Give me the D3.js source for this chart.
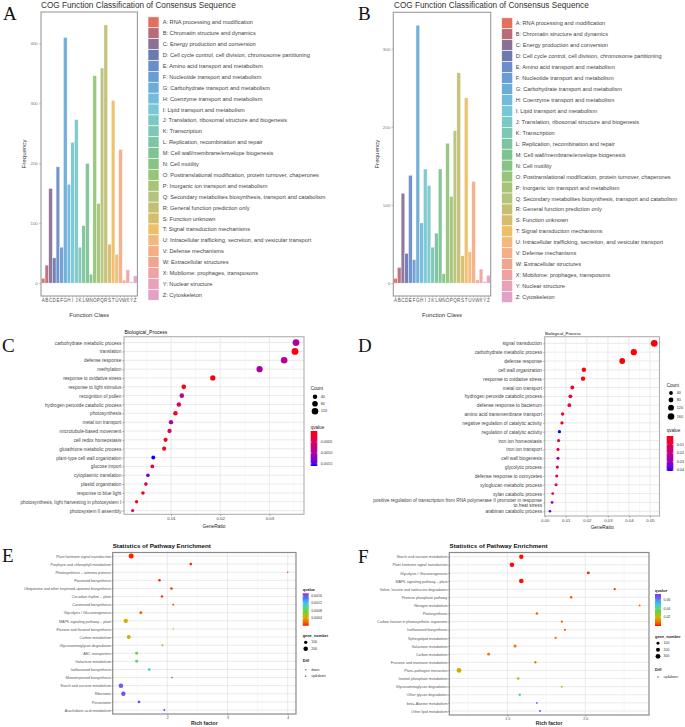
<!DOCTYPE html>
<html><head><meta charset="utf-8">
<script src="https://cdn.jsdelivr.net/npm/d3@7"></script>
<style>body{margin:0;background:#fff}svg{display:block}</style>
</head><body><svg id="fig" width="685" height="727"></svg>
<script>
// ================= DATA =================
const cogLetters = ["A","B","C","D","E","F","G","H","I","J","K","L","M","N","O","P","Q","R","S","T","U","V","W","X","Y","Z"];
const cogNames = ["A: RNA processing and modification","B: Chromatin structure and dynamics","C: Energy production and conversion","D: Cell cycle control, cell division, chromosome partitioning","E: Amino acid transport and metabolism","F: Nucleotide transport and metabolism","G: Carbohydrate transport and metabolism","H: Coenzyme transport and metabolism","I: Lipid transport and metabolism","J: Translation, ribosomal structure and biogenesis","K: Transcription","L: Replication, recombination and repair","M: Cell wall/membrane/envelope biogenesis","N: Cell motility","O: Posttranslational modification, protein turnover, chaperones","P: Inorganic ion transport and metabolism","Q: Secondary metabolites biosynthesis, transport and catabolism","R: General function prediction only","S: Function unknown","T: Signal transduction mechanisms","U: Intracellular trafficking, secretion, and vesicular transport","V: Defense mechanisms","W: Extracellular structures","X: Mobilome: prophages, transposons","Y: Nuclear structure","Z: Cytoskeleton"];
const cogColors = ["#E3705F","#B96B7A","#8C7196","#6C7BAE","#6A8DCB","#6A9DD4","#6BADD8","#72BBDA","#79C7D5","#7BC8C6","#7CC7B5","#7CC4A2","#7DC492","#86C384","#96C479","#A6C57A","#B5C47C","#C4BF72","#D6BD6E","#EEBF67","#F3B97B","#F5AE86","#F3A48F","#F0A2A2","#EAA2B8","#E2A2C8"];
const cogFreqA = [8,30,158,42,194,60,410,165,235,273,60,96,200,15,346,133,359,431,65,305,48,223,5,22,2,12];
const cogFreqB = [6,20,115,38,138,30,330,77,146,125,46,64,146,12,179,111,195,269,35,237,40,130,4,18,2,10];
const cogTicksA = [0,100,200,300,400];
const cogTicksB = [0,100,200,300];

const termsC = ["carbohydrate metabolic process","translation","defense response","methylation","response to oxidative stress","response to light stimulus","recognition of pollen","hydrogen peroxide catabolic process","photosynthesis","metal ion transport","microtubule-based movement","cell redox homeostasis","glutathione metabolic process","plant-type cell wall organization","glucose import","cytoplasmic translation","plastid organization","response to blue light","photosynthesis, light harvesting in photosystem I","photosystem II assembly"];
const ratioC = [0.0354,0.0352,0.0330,0.0280,0.0185,0.0126,0.0122,0.0116,0.0109,0.0100,0.0097,0.0089,0.0086,0.0064,0.0062,0.0053,0.0049,0.0043,0.0030,0.0022];
const countC = [130,129,121,103,68,46,45,43,40,37,36,33,32,24,23,20,18,16,11,8];
const qC = [0.00095,0.00005,0.00095,0.00098,0.00002,0.00003,0.0008,0.0004,0.0001,0.001,0.0005,0.0001,0.0001,0.0016,0.0004,0.0013,0.0003,0.0001,0.00005,0.0006];
const xTicksC = [0.01,0.02,0.03];
const countTicksC = [40,80,120];
const qTicksC = [0.0005,0.0010,0.0015];

const termsD = ["signal transduction","carbohydrate metabolic process","defense response","cell wall organization","response to oxidative stress","metal ion transport","hydrogen peroxide catabolic process","defense response to bacterium","amino acid transmembrane transport","negative regulation of catalytic activity","regulation of catalytic activity","iron ion homeostasis","iron ion transport","cell wall biogenesis","glycolytic process","defense response to oomycetes","xyloglucan metabolic process","xylan catabolic process","positive regulation of transcription from RNA polymerase II promoter in response to heat stress","arabinan catabolic process"];
const ratioD = [0.0520,0.0423,0.0368,0.0186,0.0182,0.0131,0.0122,0.0117,0.0085,0.0082,0.0070,0.0066,0.0063,0.0063,0.0060,0.0057,0.0054,0.0038,0.0035,0.0025];
const countD = [172,140,121,61,60,43,40,39,28,27,23,22,21,21,20,19,18,13,12,8];
const qD = [0.0002,0.0003,0.0002,0.0006,0.0008,0.004,0.006,0.007,0.006,0.004,0.041,0.007,0.008,0.028,0.008,0.009,0.01,0.006,0.03,0.037];
const xTicksD = [0.00,0.01,0.02,0.03,0.04,0.05];
const countTicksD = [40,80,120,160];
const qTicksD = [0.01,0.02,0.03,0.04];

const termsE = ["Plant hormone signal transduction","Porphyrin and chlorophyll metabolism","Photosynthesis \u2013 antenna proteins","Flavonoid biosynthesis","Ubiquinone and other terpenoid\u2013quinone biosynthesis","Circadian rhythm \u2013 plant","Carotenoid biosynthesis","Glycolysis / Gluconeogenesis","MAPK signaling pathway \u2013 plant","Flavone and flavonol biosynthesis","Carbon metabolism","Glycosaminoglycan degradation","ABC transporters","Galactose metabolism","Isoflavonoid biosynthesis","Monoterpenoid biosynthesis","Starch and sucrose metabolism","Ribosome","Peroxisome","Arachidonic acid metabolism"];
const richE = [1.40,2.39,4.00,1.87,2.07,1.91,2.10,1.56,1.31,2.10,1.36,1.92,1.49,1.49,1.70,2.08,1.23,1.27,1.53,1.95];
const genesE = [240,61,15,61,61,51,34,83,185,22,152,34,83,83,61,22,202,185,61,34];
const qE = [0.00002,0.00003,0.00005,0.00003,0.00006,0.00005,0.0001,0.00018,0.00045,0.0005,0.00046,0.0007,0.00078,0.0009,0.00118,0.0015,0.0016,0.00165,0.00165,0.00175];
const xTicksE = [2,3,4];
const qTicksE = [0.0016,0.0012,0.0008,0.0004];
const geneTicksE = [100,200];
const diffLevelsE = ["down","up&down"];

const termsF = ["Starch and sucrose metabolism","Plant hormone signal transduction","Glycolysis / Gluconeogenesis","MAPK signaling pathway \u2013 plant","Valine, leucine and isoleucine degradation","Pentose phosphate pathway","Nitrogen metabolism","Photosynthesis","Carbon fixation in photosynthetic organisms","Isoflavonoid biosynthesis","Sphingolipid metabolism","Galactose metabolism","Carbon metabolism","Fructose and mannose metabolism","Plant\u2013pathogen interaction","Inositol phosphate metabolism","Glycosaminoglycan degradation","Other glycan degradation","beta\u2013Alanine metabolism","Other lipid metabolism"];
const richF = [1.59,1.53,2.02,1.59,2.19,1.91,2.35,1.69,1.85,1.87,1.81,1.55,1.38,1.68,1.19,1.57,1.85,1.58,1.69,1.71];
const genesF = [246,271,88,271,47,60,25,60,47,47,47,104,88,60,297,73,35,60,25,25];
const qF = [0.0003,0.0002,0.001,0.0003,0.003,0.006,0.006,0.007,0.007,0.007,0.009,0.011,0.010,0.012,0.018,0.024,0.026,0.045,0.065,0.074];
const xTicksF = [1.5,2.0];
const qTicksF = [0.06,0.04,0.02];
const geneTicksF = [100,200,300];
const diffLevelsF = ["up&down"];

// ================= DRAWING =================
const FONT = "'Liberation Sans', Arial, Helvetica, sans-serif";
const SERIF = "'Liberation Serif', 'Times New Roman', serif";
const svg = d3.select("#fig");
svg.append("rect").attr("width",685).attr("height",727).attr("fill","#fff");

// font size that makes string s span width w
function fitSize(s, w, weight = "normal", family = FONT) {
  const t = svg.append("text").attr("font-family", family).attr("font-size", 20).attr("font-weight", weight).text(s);
  const L = t.node().getComputedTextLength();
  t.remove();
  return L > 0 ? 20 * w / L : 5;
}

function txt(g, x, y, s, size, opts = {}) {
  return g.append("text").attr("x", x).attr("y", y).text(s)
    .attr("font-family", opts.family || FONT).attr("font-size", size)
    .attr("fill", opts.fill || "#222").attr("font-weight", opts.weight || "normal")
    .attr("text-anchor", opts.anchor || "start")
    .attr("dominant-baseline", opts.baseline || "auto");
}

// panel letters
[["A",3,20],["B",358,20],["C",2,352],["D",358,352],["E",2,562],["F",358,563]].forEach(p =>
  txt(svg, p[1], p[2], p[0], 19, {family: SERIF, fill: "#111"}));

const cogTitle = "COG Function Classification of Consensus Sequence";
function cogPanel(o) {
  const g = svg.append("g");
  const x = d3.scaleBand().domain(cogLetters).range([o.x0, o.x1]).paddingInner(0).paddingOuter(0.1);
  const maxV = d3.max(o.values);
  const y = d3.scaleLinear().domain([-0.05 * maxV, 1.05 * maxV]).range([o.y1, o.y0]);
  g.append("rect").attr("x", o.x0).attr("y", o.y0).attr("width", o.x1 - o.x0).attr("height", o.y1 - o.y0).attr("fill", "#fff");
  g.selectAll("rect.bar").data(cogLetters.map((l, i) => ({l, v: o.values[i], c: cogColors[i]}))).join("rect")
    .attr("class", "bar").attr("x", d => x(d.l)).attr("width", x.bandwidth())
    .attr("y", d => y(d.v)).attr("height", d => y(0) - y(d.v))
    .attr("fill", d => d.c).attr("fill-opacity", 0.95).attr("stroke", "#fff").attr("stroke-width", 0.4);
  g.append("rect").attr("x", o.x0).attr("y", o.y0).attr("width", o.x1 - o.x0).attr("height", o.y1 - o.y0)
    .attr("fill", "none").attr("stroke", "#9a9a9a").attr("stroke-width", 1.1);
  const ya = g.append("g").attr("transform", `translate(${o.x0},0)`)
    .call(d3.axisLeft(y).tickValues(o.ticks).tickSize(o.tickLen).tickPadding(1.2));
  ya.select(".domain").remove();
  ya.selectAll("line").attr("stroke", "#888").attr("stroke-width", 0.5);
  ya.selectAll("text").attr("font-size", 4.4).attr("fill", "#777").attr("font-family", FONT);
  const xa = g.append("g").attr("transform", `translate(0,${o.y1})`)
    .call(d3.axisBottom(x).tickSize(1.8).tickPadding(1));
  xa.select(".domain").remove();
  xa.selectAll("line").attr("stroke", "#888").attr("stroke-width", 0.4);
  xa.selectAll("text").attr("font-size", 4.6).attr("fill", "#555").attr("font-family", FONT);
  txt(g, (o.x0 + o.x1) / 2, o.y1 + 21, "Function Class", fitSize("Function Class", 40), {anchor: "middle", fill: "#333"});
  g.append("text").attr("transform", `translate(${o.yLabelX},${(o.y0 + o.y1) / 2}) rotate(-90)`)
    .attr("text-anchor", "middle").attr("dominant-baseline", "central").attr("font-size", fitSize("Frequency", 29))
    .attr("font-family", FONT).attr("fill", "#333").text("Frequency");
  txt(g, o.titleX, o.titleY, cogTitle, fitSize(cogTitle, 195), {fill: "#333"});
  // legend
  const lfs = fitSize(cogNames[16], o.legendW);
  const lg = g.append("g");
  lg.selectAll("rect").data(cogNames).join("rect")
    .attr("x", o.lx).attr("y", (d, i) => o.ly0 + i * o.step - o.step / 2)
    .attr("width", 11).attr("height", o.step).attr("fill", (d, i) => cogColors[i])
    .attr("stroke", "#fff").attr("stroke-width", 0.6);
  lg.selectAll("text").data(cogNames).join("text")
    .attr("x", o.tx).attr("y", (d, i) => o.ly0 + i * o.step)
    .attr("dominant-baseline", "central").attr("font-size", lfs).attr("fill", "#444")
    .attr("font-family", FONT).text(d => d);
}

cogPanel({x0: 41, x1: 137.4, y0: 12, y1: 296, values: cogFreqA, ticks: cogTicksA, tickLen: 2,
  yLabelX: 23, titleX: 41, titleY: 7.6, lx: 148, tx: 162.7, ly0: 22.3, step: 10.9, legendW: 163});
cogPanel({x0: 393.3, x1: 490.7, y0: 12.3, y1: 296, values: cogFreqB, ticks: cogTicksB, tickLen: 2,
  yLabelX: 376, titleX: 394, titleY: 8.4, lx: 501.7, tx: 515.7, ly0: 23.3, step: 10.95, legendW: 162});

function gradientBar(g, id, color, topVal, botVal, x, y0, w, h, ticks, fmt, labelX, fs) {
  const defs = svg.append("defs");
  const lin = defs.append("linearGradient").attr("id", id).attr("x1", 0).attr("x2", 0).attr("y1", 0).attr("y2", 1);
  d3.range(0, 1.0001, 0.05).forEach(t => lin.append("stop").attr("offset", t)
    .attr("stop-color", color(topVal + (botVal - topVal) * t)));
  g.append("rect").attr("x", x).attr("y", y0).attr("width", w).attr("height", h).attr("fill", `url(#${id})`);
  const pos = d3.scaleLinear().domain([topVal, botVal]).range([y0, y0 + h]);
  ticks.forEach(v => {
    g.append("line").attr("x1", x).attr("x2", x + w * 0.2).attr("y1", pos(v)).attr("y2", pos(v)).attr("stroke", "#fff").attr("stroke-width", 0.4);
    g.append("line").attr("x1", x + w * 0.8).attr("x2", x + w).attr("y1", pos(v)).attr("y2", pos(v)).attr("stroke", "#fff").attr("stroke-width", 0.4);
    txt(g, labelX, pos(v), fmt(v), fs, {baseline: "central", fill: "#333"});
  });
}

function dotPanel(o) {
  const g = svg.append("g");
  const x = d3.scaleLinear().domain(o.xDomain).range([o.x0, o.x1]);
  const y = d3.scalePoint().domain(o.terms).range([o.yFirst, o.yLast]);
  const area = d3.scaleLinear().domain(o.sizeDomain).range([o.rRange[0] ** 2, o.rRange[1] ** 2]);
  const rad = v => Math.sqrt(Math.max(area(v), 0.25));
  g.append("rect").attr("x", o.x0).attr("y", o.y0).attr("width", o.x1 - o.x0).attr("height", o.y1 - o.y0).attr("fill", "#fff");
  g.selectAll("line.minor").data(o.xMinor).join("line").attr("class", "minor")
    .attr("x1", d => x(d)).attr("x2", d => x(d)).attr("y1", o.y0).attr("y2", o.y1)
    .attr("stroke", "#f1f1f1").attr("stroke-width", 0.5);
  g.selectAll("line.major").data(o.xTicks).join("line").attr("class", "major")
    .attr("x1", d => x(d)).attr("x2", d => x(d)).attr("y1", o.y0).attr("y2", o.y1)
    .attr("stroke", "#e4e4e4").attr("stroke-width", 0.8);
  g.selectAll("line.hgrid").data(o.terms).join("line").attr("class", "hgrid")
    .attr("x1", o.x0).attr("x2", o.x1).attr("y1", d => y(d)).attr("y2", d => y(d))
    .attr("stroke", "#e4e4e4").attr("stroke-width", 0.8);
  const pts = o.terms.map((t, i) => ({t, v: o.vals[i], s: o.sizes[i], q: o.qs[i]}));
  g.selectAll("circle.pt").data(pts).join("circle").attr("class", "pt")
    .attr("cx", d => x(d.v)).attr("cy", d => y(d.t)).attr("r", d => rad(d.s))
    .attr("fill", d => o.color(d.q));
  g.append("rect").attr("x", o.x0).attr("y", o.y0).attr("width", o.x1 - o.x0).attr("height", o.y1 - o.y0)
    .attr("fill", "none").attr("stroke", o.border).attr("stroke-width", o.borderW);
  const ya = g.append("g").attr("transform", `translate(${o.x0},0)`)
    .call(d3.axisLeft(y).tickSize(o.yTick[0]).tickPadding(o.yTick[1]));
  ya.select(".domain").remove();
  ya.selectAll("line").attr("stroke", "#444").attr("stroke-width", 0.4);
  ya.selectAll("text").attr("font-size", o.yFont).attr("fill", o.yColor).attr("font-family", FONT);
  if (o.wrap) {
    ya.selectAll("text").each(function (d) {
      if (d.length <= o.wrap) return;
      const words = d.split(" ");
      let l1 = "";
      while (words.length && (l1 + " " + words[0]).trim().length <= o.wrap) l1 = (l1 + " " + words.shift()).trim();
      const t = d3.select(this).text(null);
      t.append("tspan").attr("x", t.attr("x")).attr("dy", "-0.2em").text(l1);
      t.append("tspan").attr("x", t.attr("x")).attr("dy", "1.0em").text(words.join(" "));
    });
  }
  const xa = g.append("g").attr("transform", `translate(0,${o.y1})`)
    .call(d3.axisBottom(x).tickValues(o.xTicks).tickFormat(o.xFormat).tickSize(1.6).tickPadding(1));
  xa.select(".domain").remove();
  xa.selectAll("line").attr("stroke", "#444").attr("stroke-width", 0.4);
  xa.selectAll("text").attr("font-size", o.xFont).attr("fill", "#444").attr("font-family", FONT);
  txt(g, (o.x0 + o.x1) / 2, o.xLabelY, o.xLabel, o.xLabelSize, {anchor: "middle", fill: "#222", weight: o.xLabelWeight || "normal"});
  txt(g, o.titleX, o.titleY, o.title, o.titleSize, {fill: "#111", weight: o.titleWeight || "normal"});
  return {g, rad};
}

// ---- C & D : GO dot plots ----
function goLegend(p, o) {
  const g = p.g;
  txt(g, o.lx, o.countY, "Count", 4.6, {baseline: "central"});
  o.countTicks.forEach((v, i) => {
    g.append("circle").attr("cx", o.lx + 4.3).attr("cy", o.countYs[i]).attr("r", p.rad(v)).attr("fill", "#000");
    txt(g, o.lx + 10, o.countYs[i], String(v), 3.8, {baseline: "central", fill: "#333"});
  });
  txt(g, o.lx, o.qY, "qvalue", 4.6, {baseline: "central"});
  gradientBar(g, o.id, o.color, o.qTop, o.qBot, o.lx, o.barY, 6.6, o.barH, o.qTicks, o.qFmt, o.lx + 10, 3.8);
}

const colorC = d3.scaleLinear().domain([0, 0.0016]).range(["#FF0000", "#0000FF"]).interpolate(d3.interpolateLab).clamp(true);
const pC = dotPanel({terms: termsC, vals: ratioC, sizes: countC, qs: qC, color: colorC,
  xDomain: [0.00045, 0.03703], x0: 124, x1: 304, y0: 336.7, y1: 514.3, yFirst: 342.6, yLast: 510.6,
  xTicks: xTicksC, xMinor: [0.005, 0.015, 0.025, 0.035], xFormat: d3.format(".2f"),
  sizeDomain: [8, 130], rRange: [1.6, 3.4], border: "#b0b0b0", borderW: 1.1, yTick: [1.6, 1.1],
  yFont: fitSize(termsC[0], 66.7), yColor: "#444", xFont: 4.4, xLabel: "GeneRatio", xLabelY: 527.5, xLabelSize: 4.8,
  title: "Biological_Process", titleX: 124.5, titleY: 334, titleSize: fitSize("Biological_Process", 43)});
goLegend(pC, {lx: 310.7, countY: 388.7, countTicks: countTicksC, countYs: [396.7, 403.7, 411.3],
  qY: 427, id: "gC", color: colorC, qTop: 0, qBot: 0.0016, barY: 431, barH: 35, qTicks: qTicksC, qFmt: d3.format(".4f")});

const colorD = d3.scaleLinear().domain([0, 0.041]).range(["#FF0000", "#0000FF"]).interpolate(d3.interpolateLab).clamp(true);
const pD = dotPanel({terms: termsD, vals: ratioD, sizes: countD, qs: qD, color: colorD,
  xDomain: [0, 0.0545], x0: 544.7, x1: 659.5, y0: 336.7, y1: 516, yFirst: 343.3, yLast: 511.3,
  xTicks: xTicksD, xMinor: [0.005, 0.015, 0.025, 0.035, 0.045], xFormat: d3.format(".2f"),
  sizeDomain: [8, 172], rRange: [1.3, 3.4], border: "#b0b0b0", borderW: 1.1, wrap: 81, yTick: [1.6, 1.1],
  yFont: fitSize("positive regulation of transcription from RNA polymerase II promoter in response", 169), yColor: "#444",
  xFont: 4.3, xLabel: "GeneRatio", xLabelY: 529, xLabelSize: 4.8,
  title: "Biological_Process", titleX: 545, titleY: 334.5, titleSize: fitSize("Biological_Process", 36)});
goLegend(pD, {lx: 666.7, countY: 385, countTicks: countTicksD, countYs: [393, 400, 407.7, 416.5],
  qY: 430, id: "gD", color: colorD, qTop: 0, qBot: 0.041, barY: 436, barH: 35, qTicks: qTicksD, qFmt: d3.format(".2f")});

// ---- E & F : KEGG enrichment ----
const rainbowStops = ["#FF0000", "#F26B00", "#D2AE00", "#66D23C", "#22CFE0", "#4A6CFF", "#8E2DE8"];
const rainbowPos = [0, 0.12, 0.25, 0.45, 0.68, 0.86, 1];
function rainbowScale(max) {
  return d3.scaleLinear().domain(rainbowPos.map(t => t * max)).range(rainbowStops).interpolate(d3.interpolateLab).clamp(true);
}
function keggLegend(p, o) {
  const g = p.g;
  txt(g, o.lx, o.qY, "qvalue", 3.9, {baseline: "central", weight: "bold"});
  gradientBar(g, o.id, o.color, o.qTop, 0, o.lx, o.barY, 6, o.barH, o.qTicks, o.qFmt, o.lx + 8.5, 3.5);
  txt(g, o.lx, o.gY, "gene_number", 3.9, {baseline: "central", weight: "bold"});
  o.geneTicks.forEach((v, i) => {
    g.append("circle").attr("cx", o.lx + 3).attr("cy", o.gYs[i]).attr("r", p.rad(v)).attr("fill", "#000");
    txt(g, o.lx + 8.5, o.gYs[i], String(v), 3.5, {baseline: "central", fill: "#333"});
  });
  txt(g, o.lx, o.dY, "Diff", 3.9, {baseline: "central", weight: "bold"});
  o.diff.forEach((v, i) => {
    g.append("circle").attr("cx", o.lx + 3).attr("cy", o.dYs[i]).attr("r", 0.8).attr("fill", "#666");
    txt(g, o.lx + 8.5, o.dYs[i], v, 3.5, {baseline: "central", fill: "#333"});
  });
}

const keggTitle = "Statistics of Pathway Enrichment";
const colorE = rainbowScale(0.00175);
const pE = dotPanel({terms: termsE, vals: richE, sizes: genesE, qs: qE, color: colorE,
  xDomain: [1.093, 4.138], x0: 112.7, x1: 296, y0: 552.5, y1: 714, yFirst: 556, yLast: 710,
  xTicks: xTicksE, xMinor: [1.5, 2.5, 3.5], xFormat: d3.format("d"),
  sizeDomain: [15, 240], rRange: [0.7, 2.5], border: "#8a8a8a", borderW: 1.2, yTick: [1.1, 0.6],
  yFont: fitSize(termsE[4], 87), yColor: "#555", xFont: 3.5, xLabel: "Rich factor", xLabelY: 724.5,
  xLabelSize: fitSize("Rich factor", 26.6, "bold"), xLabelWeight: "bold",
  title: keggTitle, titleX: 112.7, titleY: 548, titleSize: fitSize(keggTitle, 98.3, "bold"), titleWeight: "bold"});
keggLegend(pE, {lx: 302.7, qY: 589.3, id: "gE", color: colorE, qTop: 0.00175, barY: 593.3, barH: 32.4,
  qTicks: qTicksE, qFmt: d3.format(".4f"), gY: 635.7, geneTicks: geneTicksE, gYs: [642.3, 648.7],
  dY: 660.7, diff: diffLevelsE, dYs: [669.7, 676.3]});

const colorF = rainbowScale(0.074);
const pF = dotPanel({terms: termsF, vals: richF, sizes: genesF, qs: qF, color: colorF,
  xDomain: [1.1275, 2.41], x0: 449.3, x1: 649, y0: 552.5, y1: 715, yFirst: 556.7, yLast: 711,
  xTicks: xTicksF, xMinor: [1.25, 1.75, 2.25], xFormat: d3.format(".1f"),
  sizeDomain: [20, 310], rRange: [0.85, 2.45], border: "#8a8a8a", borderW: 1.2, yTick: [1.1, 0.8],
  yFont: fitSize(termsF[8], 70.6), yColor: "#555", xFont: 3.5, xLabel: "Rich factor", xLabelY: 725,
  xLabelSize: fitSize("Rich factor", 26.7, "bold"), xLabelWeight: "bold",
  title: keggTitle, titleX: 449.5, titleY: 548, titleSize: fitSize(keggTitle, 98.3, "bold"), titleWeight: "bold"});
keggLegend(pF, {lx: 655, qY: 590, id: "gF", color: colorF, qTop: 0.074, barY: 594, barH: 32,
  qTicks: qTicksF, qFmt: d3.format(".2f"), gY: 636.3, geneTicks: geneTicksF, gYs: [643.3, 649.7, 656.3],
  dY: 669.7, diff: diffLevelsF, dYs: [677]});
</script></body></html>
